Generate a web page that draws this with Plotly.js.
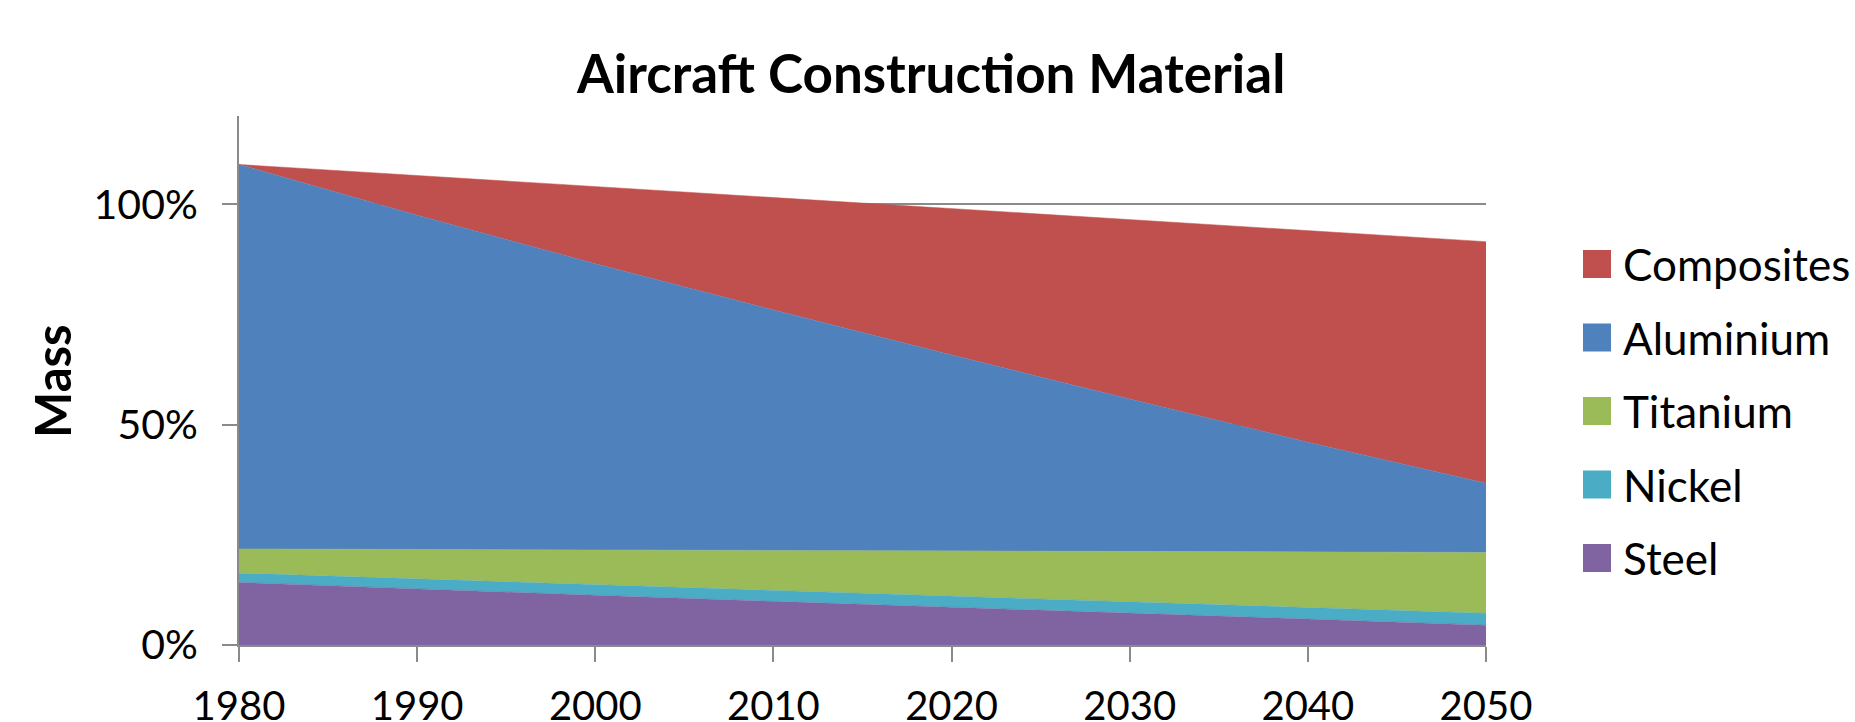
<!DOCTYPE html>
<html>
<head>
<meta charset="utf-8">
<script src="https://cdn.plot.ly/plotly-3.0.1.min.js"></script>
<style>
  html, body { margin: 0; padding: 0; background: #ffffff; }
  #chart { width: 1855px; height: 722px; }
</style>
</head>
<body>
<div id="chart"></div>
<script>
// ---- Data (stacked area, % of mass) ----
var years = [1980, 1990, 2000, 2010, 2020, 2030, 2040, 2050];
var steel      = [14.2, 12.7, 11.3, 9.9, 8.6, 7.2, 5.9, 4.5];
var nickel     = [2.1, 2.3, 2.4, 2.5, 2.4, 2.5, 2.5, 2.7];
var titanium   = [5.5, 6.7, 7.9, 9.1, 10.4, 11.6, 12.8, 13.8];
var aluminium  = [87.2, 75.8, 64.9, 54.5, 44.4, 34.5, 24.8, 15.7];
var composites = [0.0, 9.0, 17.5, 25.5, 33.2, 40.7, 48.0, 54.8];

var seriesNames  = ["Steel", "Nickel", "Titanium", "Aluminium", "Composites"];
var seriesValues = [steel, nickel, titanium, aluminium, composites];
var seriesColors = ["#8064A2", "#4BACC6", "#9BBB59", "#4F81BD", "#C0504D"];
var yTickVals   = [0, 50, 100];
var yTickLabels = ["0%", "50%", "100%"];
var xTickLabels = ["1980", "1990", "2000", "2010", "2020", "2030", "2040", "2050"];
var yAxisTitle  = "Mass";
var chartTitle  = "Aircraft Construction Material";

var FONT = "Lato, 'Open Sans', sans-serif";

var traces = seriesNames.map(function (name, i) {
  return {
    type: "scatter",
    mode: "lines",
    name: name,
    x: years,
    y: seriesValues[i],
    stackgroup: "one",
    fillcolor: seriesColors[i],
    line: { color: seriesColors[i], width: 0.5 },
    showlegend: false,
    hoverinfo: "x+y+name"
  };
});

// plot-area pixel geometry
var L = 239, R = 1486, T = 116, B = 645;
var W = R - L, H = B - T;
function px2x(p) { return (p - L) / W; }
function py2y(p) { return (B - p) / H; }

// custom legend (top to bottom: Composites ... Steel)
var shapes = [], annotations = [];
var legendCenters = [264, 337.5, 411, 484.5, 558];
for (var k = 0; k < seriesNames.length; k++) {
  var idx = seriesNames.length - 1 - k;
  var cy = legendCenters[k];
  shapes.push({
    type: "rect", xref: "paper", yref: "paper",
    x0: px2x(1583), x1: px2x(1611),
    y0: py2y(cy + 14), y1: py2y(cy - 14),
    fillcolor: seriesColors[idx],
    line: { width: 0 }
  });
  annotations.push({
    xref: "paper", yref: "paper",
    x: px2x(1621), y: py2y(cy),
    xanchor: "left", yanchor: "middle",
    text: seriesNames[idx],
    showarrow: false,
    font: { family: FONT, size: 44, color: "#000000" }
  });
}

// y-axis title (rotated)
annotations.push({
  xref: "paper", yref: "paper",
  x: px2x(52), y: py2y(381),
  xanchor: "center", yanchor: "middle",
  textangle: -90,
  text: "<b>" + yAxisTitle + "</b>",
  showarrow: false,
  font: { family: FONT, size: 49, color: "#000000" }
});

var layout = {
  width: 1855,
  height: 722,
  autosize: false,
  paper_bgcolor: "#ffffff",
  plot_bgcolor: "#ffffff",
  margin: { l: L, r: 1855 - R, t: T, b: 722 - B, pad: 0 },
  title: {
    text: chartTitle,
    font: { family: FONT, size: 53, color: "#000000", weight: "bold" },
    x: 0.502, xref: "container", xanchor: "center",
    y: 1 - 74 / 722, yref: "container", yanchor: "middle"
  },
  xaxis: {
    range: [1980, 2050],
    tickvals: years,
    ticktext: xTickLabels,
    ticks: "outside",
    ticklen: 15,
    tickwidth: 2,
    tickcolor: "#8a8a8a",
    showline: true,
    linecolor: "#8a8a8a",
    linewidth: 2,
    showgrid: false,
    zeroline: false,
    ticklabelstandoff: 10,
    tickfont: { family: FONT, size: 40, color: "#000000" },
    fixedrange: true
  },
  yaxis: {
    range: [0, 120],
    tickvals: yTickVals,
    ticktext: yTickLabels,
    ticks: "outside",
    ticklen: 15,
    tickwidth: 2,
    tickcolor: "#8a8a8a",
    showline: true,
    linecolor: "#8a8a8a",
    linewidth: 2,
    showgrid: true,
    gridcolor: "#8a8a8a",
    gridwidth: 2,
    zeroline: false,
    ticklabelstandoff: 16,
    tickfont: { family: FONT, size: 41, color: "#000000" },
    automargin: false,
    fixedrange: true
  },
  shapes: shapes,
  annotations: annotations,
  showlegend: false
};

Plotly.newPlot("chart", traces, layout, { displayModeBar: false, staticPlot: true });
</script>
</body>
</html>
